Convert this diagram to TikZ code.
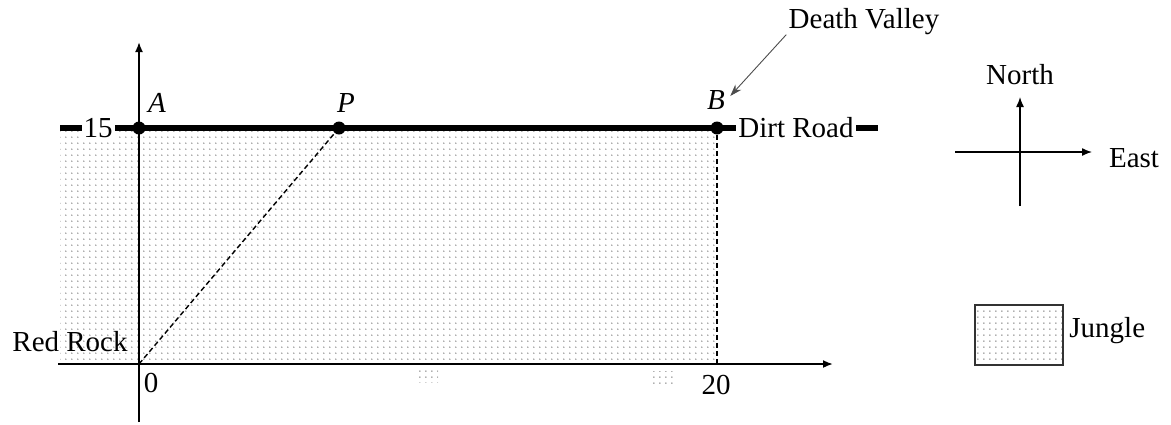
\documentclass[tikz,border=0pt]{standalone}
\usepackage{fontspec}
\setmainfont{Liberation Serif}
\usetikzlibrary{arrows.meta,patterns.meta}
\tikzdeclarepattern{name=jdots,type=uncolored,bottom left={(-.5pt,-.5pt)},top right={(2.5pt,2.5pt)},tile size={(3pt,3pt)},code={\fill (0,0) circle (0.45pt);}}
\begin{document}
\begin{tikzpicture}[x=0.5pt,y=-0.5pt,
  font=\fontsize{14.5}{17}\selectfont,
  axisline/.style={line width=0.9pt,-{Latex[length=5pt,width=4pt]}},
  compassline/.style={line width=0.7pt,-{Latex[length=5pt,width=4pt]}},
  road/.style={line width=2.8pt},
  dotnode/.style={circle,fill=black,inner sep=0pt,minimum size=6.5pt},
  dashline/.style={line width=0.7pt,dash pattern=on 2.5pt off 1.5pt},
  jungle/.style={pattern=jdots,pattern color=gray!85},
  roadlabel/.style={fill=white,inner sep=1pt},
  lbl/.style={inner sep=1pt},
  pointer/.style={draw=black!70,line width=0.45pt,-{Stealth[length=6pt,width=4pt]}},
  legendbox/.style={draw=black!80,line width=0.8pt,pattern=jdots,pattern color=gray!85,minimum width=44pt,minimum height=30pt,inner sep=0pt}]
\useasboundingbox (0,0) rectangle (1171,424);
% jungle region
\fill[jungle] (60,131) rectangle (717,362);
\fill[jungle] (415,366) rectangle (438,382);
\fill[jungle] (652,371) rectangle (674,384);
% axes
\coordinate (O) at (139,364);
\coordinate (xs) at (58,364);
\coordinate (xe) at (833,364);
\coordinate (ys) at (139,422);
\coordinate (ye) at (139,42);
\draw[axisline] (xs) -- (xe);
\draw[axisline] (ys) -- (ye);
% road
\coordinate (r1) at (60,128);
\coordinate (r2) at (878,128);
\draw[road] (r1) -- (r2);
\node[roadlabel] (l15) at (98,128) {15};
\node[roadlabel] (ldirt) at (796,128) {Dirt Road};
% points
\node[dotnode] (A) at (139,128) {};
\node[dotnode] (P) at (339,128) {};
\node[dotnode] (B) at (717,128) {};
\draw[dashline] (O) -- (P);
\draw[dashline] (B) -- (B |- O);
\node[lbl] (lA) at (157,103) {\textit{A}};
\node[lbl] (lP) at (346,103) {\textit{P}};
\node[lbl] (lB) at (716,100) {\textit{B}};
\node[lbl] (l0) at (151,383) {0};
\node[lbl] (l20) at (716,385) {20};
\node[lbl] (lred) at (70,342) {Red Rock};
\node[lbl] (ldv) at (864,22) {Death Valley};
\draw[pointer] ([shift={(0,-3)}]ldv.south west) -- ([shift={(3,-4)}]lB.east);
% compass
\coordinate (cw) at (955,152);
\coordinate (ce) at (1092,152);
\coordinate (cs) at (1020,206);
\coordinate (cn) at (1020,97);
\draw[compassline] (cw) -- (ce);
\draw[compassline] (cs) -- (cn);
\node[lbl] (lnorth) at (1020,75) {North};
\node[lbl] (least) at (1134,158) {East};
% legend
\node[legendbox] (jbox) at (1019,335) {};
\node[lbl,anchor=west] (ljungle) at (1067,331) {Jungle};
\end{tikzpicture}
\end{document}
